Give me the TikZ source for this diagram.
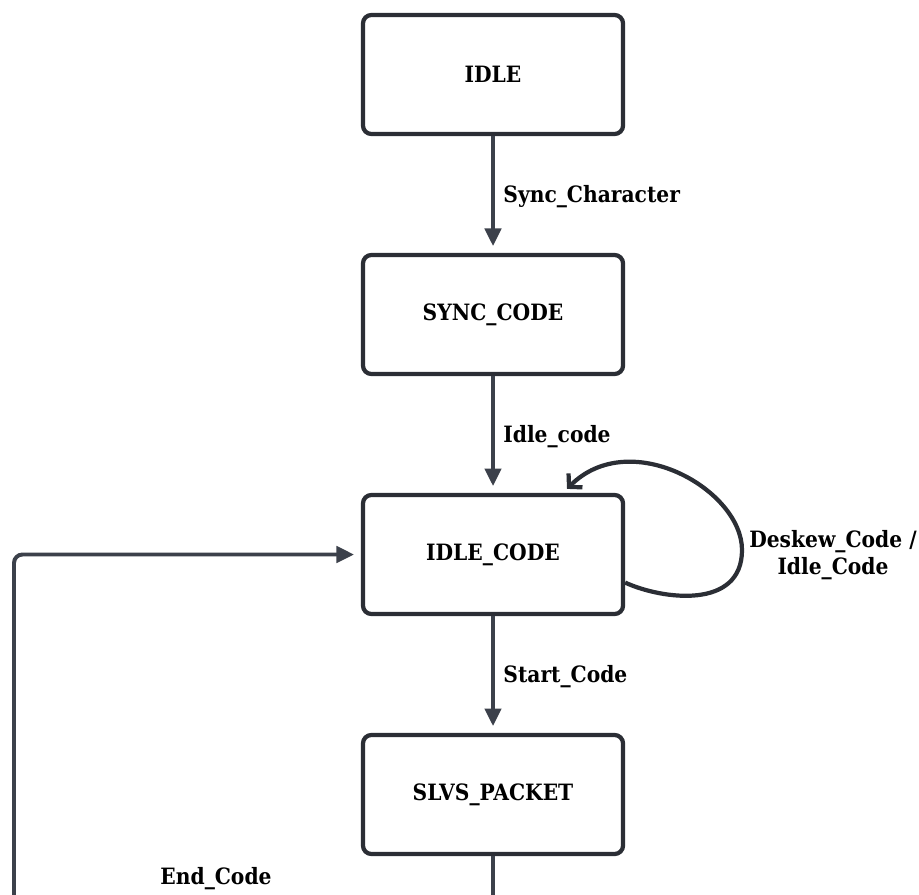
\documentclass[tikz,border=0pt]{standalone}
\usepackage{fontspec}
\setmainfont{DejaVu Serif}[FakeStretch=0.9]
\usetikzlibrary{arrows.meta,positioning}
\definecolor{boxline}{HTML}{2B2E35}
\definecolor{arrline}{HTML}{3C414B}
\tikzset{
	state/.style={draw=boxline, line width=3pt, rounded corners=6pt, fill=white,
		minimum width=6.5cm, minimum height=2.975cm,
		font=\bfseries\fontsize{16}{20}\selectfont},
	trans/.style={draw=arrline, line width=2.8pt, shorten >=0.17cm,
		-{Triangle[length=12.5pt, width=11.5pt]}},
	selfloop/.style={draw=boxline, line width=3pt,
		-{Straight Barb[length=6.5pt, width=14pt]}},
	lbl/.style={font=\bfseries\fontsize{16}{19.5}\selectfont, inner sep=0pt}
}
\begin{document}
\begin{tikzpicture}[x=0.025cm, y=-0.025cm]
			\useasboundingbox (0,0) rectangle (919,894);
			\clip (0,0) rectangle (919,894);
			
			\node[state] (idle) at (493,74.5) {IDLE};
			\node[state] (sync) at (493,314.5) {SYNC\_CODE};
			\node[state] (idlecode) at (493,554.5) {IDLE\_CODE};
			\node[state] (slvs) at (493,794.5) {SLVS\_PACKET};
			
			\draw[trans] (idle) -- node[lbl, right=6pt, pos=0.52] (synclbl) {Sync\_Character} (sync);
			\draw[trans] (sync) -- node[lbl, right=6pt, pos=0.52] (idlelbl) {Idle\_code} (idlecode);
			\draw[trans] (idlecode) -- node[lbl, right=6pt, pos=0.52] (startlbl) {Start\_Code} (slvs);
			
			\coordinate (loopside) at (742,550);
			\draw[selfloop] (idlecode.-12.5) .. controls +(37,17) and +(0,60) .. (loopside)
				.. controls +(0,-60) and +(63,-63) .. ([shift={(74,-4)}]idlecode.north);
			\node[lbl, align=center] (selflbl) at (833,555) {Deskew\_Code /\\Idle\_Code};
			
			\coordinate (turn) at (14,915);
			\draw[trans, rounded corners=6pt] (slvs) |- (turn) |- (idlecode);
			\node[lbl] (endlbl) at (216,879) {End\_Code};
\end{tikzpicture}
\end{document}
